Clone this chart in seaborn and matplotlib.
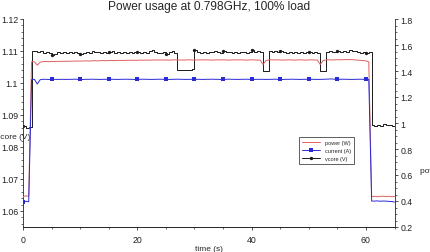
import numpy as np
import pandas as pd
import matplotlib
matplotlib.use('Agg')
import matplotlib.pyplot as plt
import seaborn as sns
from matplotlib.ticker import MultipleLocator, FuncFormatter

# --- data (sampled every 0.5 s) ---
TIME = np.arange(0, 65.5, 0.5)

VCORE_IDLE_START = [1.0865, 1.0858, 1.0862]
VCORE_LOAD = [
    1.1100, 1.1100, 1.1097, 1.1100, 1.1095, 1.1098, 1.1093, 1.1088, 1.1092, 1.1096,
    1.1094, 1.1097, 1.1095, 1.1097, 1.1094, 1.1096, 1.1093, 1.1091, 1.1095, 1.1097,
    1.1094, 1.1099, 1.1096, 1.1098, 1.1094, 1.1097, 1.1094, 1.1096, 1.1099, 1.1095,
    1.1097, 1.1094, 1.1096, 1.1093, 1.1097, 1.1095, 1.1098, 1.1096, 1.1094, 1.1097,
    1.1095, 1.1099, 1.1102, 1.1097, 1.1095, 1.1093, 1.1096, 1.1091, 1.1096, 1.1099,
    1.1095, 1.1042, 1.1040, 1.1042, 1.1040, 1.1041, 1.1044, 1.1104, 1.1096, 1.1093,
    1.1097, 1.1095, 1.1098, 1.1096, 1.1099, 1.1097, 1.1095, 1.1099, 1.1096, 1.1098,
    1.1094, 1.1097, 1.1095, 1.1098, 1.1096, 1.1093, 1.1097, 1.1104, 1.1098, 1.1101,
    1.1097, 1.1038, 1.1039, 1.1100, 1.1097, 1.1101, 1.1096, 1.1099, 1.1097, 1.1095,
    1.1098, 1.1095, 1.1097, 1.1094, 1.1097, 1.1095, 1.1098, 1.1096, 1.1094, 1.1097,
    1.1095, 1.1038, 1.1039, 1.1098, 1.1100, 1.1096, 1.1098, 1.1099, 1.1097, 1.1101,
    1.1098, 1.1102, 1.1099, 1.1101, 1.1097, 1.1095, 1.1098, 1.1095, 1.1096,
]
VCORE_IDLE_END = [1.0869, 1.0866, 1.0870, 1.0867, 1.0871, 1.0868, 1.0870, 1.0866, 1.0869]

POWER_IDLE_START = [0.432, 0.440, 0.436]
POWER_LOAD = [
    1.472, 1.470, 1.445, 1.468, 1.472, 1.473, 1.472, 1.474, 1.473, 1.474,
    1.474, 1.475, 1.474, 1.476, 1.475, 1.476, 1.477, 1.476, 1.477, 1.478,
    1.477, 1.478, 1.479, 1.478, 1.479, 1.480, 1.479, 1.480, 1.481, 1.480,
    1.481, 1.482, 1.481, 1.482, 1.483, 1.482, 1.483, 1.482, 1.484, 1.483,
    1.484, 1.483, 1.484, 1.485, 1.484, 1.485, 1.484, 1.485, 1.484, 1.485,
    1.486, 1.484, 1.485, 1.484, 1.485, 1.486, 1.485, 1.484, 1.485, 1.486,
    1.485, 1.486, 1.485, 1.484, 1.485, 1.486, 1.485, 1.486, 1.485, 1.484,
    1.485, 1.486, 1.485, 1.486, 1.485, 1.484, 1.485, 1.486, 1.485, 1.484,
    1.484, 1.450, 1.480, 1.485, 1.486, 1.485, 1.486, 1.485, 1.484, 1.485,
    1.486, 1.485, 1.484, 1.485, 1.486, 1.485, 1.484, 1.485, 1.486, 1.485,
    1.484, 1.450, 1.480, 1.485, 1.486, 1.485, 1.486, 1.487, 1.486, 1.487,
    1.488, 1.487, 1.488, 1.486, 1.484, 1.482, 1.480, 1.478, 1.470,
]
POWER_IDLE_END = [0.434, 0.436, 0.433, 0.435, 0.437, 0.434, 0.436, 0.433, 0.435]

CURRENT_IDLE_START = [0.390, 0.398, 0.394]
CURRENT_LOAD = [
    1.334, 1.336, 1.300, 1.333, 1.336, 1.336, 1.335, 1.336, 1.336, 1.335,
    1.336, 1.336, 1.335, 1.336, 1.336, 1.337, 1.336, 1.336, 1.335, 1.336,
    1.336, 1.337, 1.336, 1.336, 1.335, 1.336, 1.336, 1.337, 1.336, 1.336,
    1.335, 1.336, 1.336, 1.337, 1.336, 1.336, 1.335, 1.336, 1.336, 1.337,
    1.336, 1.336, 1.335, 1.336, 1.336, 1.337, 1.336, 1.336, 1.335, 1.336,
    1.336, 1.337, 1.336, 1.336, 1.335, 1.336, 1.336, 1.337, 1.336, 1.336,
    1.335, 1.336, 1.336, 1.337, 1.336, 1.336, 1.335, 1.336, 1.336, 1.337,
    1.336, 1.336, 1.335, 1.336, 1.336, 1.337, 1.336, 1.336, 1.335, 1.336,
    1.336, 1.336, 1.335, 1.336, 1.336, 1.337, 1.336, 1.336, 1.335, 1.336,
    1.336, 1.337, 1.336, 1.336, 1.335, 1.336, 1.336, 1.337, 1.336, 1.336,
    1.335, 1.336, 1.336, 1.337, 1.338, 1.339, 1.337, 1.336, 1.336, 1.337,
    1.336, 1.336, 1.335, 1.336, 1.336, 1.337, 1.336, 1.336, 1.335,
]
CURRENT_IDLE_END = [0.400, 0.399, 0.401, 0.398, 0.400, 0.399, 0.397, 0.396, 0.392]

df = pd.DataFrame({
    'time': TIME,
    'vcore': VCORE_IDLE_START + VCORE_LOAD + VCORE_IDLE_END,
    'power': POWER_IDLE_START + POWER_LOAD + POWER_IDLE_END,
    'current': CURRENT_IDLE_START + CURRENT_LOAD + CURRENT_IDLE_END,
})

# markers every 5 s, up to 60 s
MARK_IDX = list(range(0, 121, 10))

sns.set_theme(style='ticks')
plt.rcParams['font.family'] = ['Liberation Sans', 'DejaVu Sans']
plt.rcParams['axes.linewidth'] = 0.6

fig = plt.figure(figsize=(4.30, 2.53), dpi=100)
ax = fig.add_axes([23 / 430, 25 / 253, 371.5 / 430, 208 / 253])
ax2 = ax.twinx()

sns.lineplot(data=df, x='time', y='vcore', ax=ax, color='#1a1a1a', lw=0.7,
             drawstyle='steps-post', marker='o', markersize=2.4,
             markevery=MARK_IDX, markeredgewidth=0, label='vcore (V)')
sns.lineplot(data=df, x='time', y='power', ax=ax2, color='#e06060', lw=0.7,
             label='power (W)')
sns.lineplot(data=df, x='time', y='current', ax=ax2, color='#2a2ad8', lw=0.7,
             marker='s', markersize=2.4, markevery=MARK_IDX,
             markeredgewidth=0, label='current (A)')

ax.set_xlim(0, 65)
ax.set_ylim(1.055, 1.12)
ax2.set_ylim(0.2, 1.8)

fmt = FuncFormatter(lambda v, p: '%g' % round(v, 4))
ax.xaxis.set_major_locator(MultipleLocator(20))
ax.xaxis.set_minor_locator(MultipleLocator(5))
ax.yaxis.set_major_locator(MultipleLocator(0.01))
ax.yaxis.set_minor_locator(MultipleLocator(0.002))
ax.yaxis.set_major_formatter(fmt)
ax2.yaxis.set_major_locator(MultipleLocator(0.2))
ax2.yaxis.set_minor_locator(MultipleLocator(0.05))
ax2.yaxis.set_major_formatter(fmt)

for a in (ax, ax2):
    a.spines['top'].set_visible(False)
    a.tick_params(which='major', length=2.5, width=0.6, labelsize=6.3,
                  color='#333333', labelcolor='#222222')
    a.tick_params(which='minor', length=1.3, width=0.5, color='#333333')
ax.spines['right'].set_visible(False)
ax2.spines['left'].set_visible(False)
ax.tick_params(axis='y', pad=1)
ax.tick_params(axis='x', pad=3.2)
ax2.tick_params(axis='y', pad=2)

ax.set_title('Power usage at 0.798GHz, 100% load', fontsize=8.6, pad=7.5)
ax.set_xlabel('time (s)', fontsize=6, labelpad=1)
ax.set_ylabel('vcore (V)', fontsize=6, rotation=0, ha='center', va='center')
ax.yaxis.set_label_coords(-0.027, 0.433)
ax2.set_ylabel('power (W), current (A)', fontsize=6, rotation=0,
               ha='left', va='center')
ax2.yaxis.set_label_coords(1.0687, 0.27)

h1, l1 = ax.get_legend_handles_labels()
h2, l2 = ax2.get_legend_handles_labels()
if ax.get_legend() is not None:
    ax.get_legend().remove()
leg = ax2.legend(h2 + h1, l2 + l1, loc='upper left',
                 bbox_to_anchor=(0.743, 0.433), borderaxespad=0,
                 fontsize=4, frameon=True, fancybox=False, framealpha=1,
                 edgecolor='#444444', handlelength=3.2, handletextpad=0.8,
                 borderpad=0.6, labelspacing=0.5)
leg.get_frame().set_linewidth(0.6)

fig.savefig('out.png', dpi=100)
